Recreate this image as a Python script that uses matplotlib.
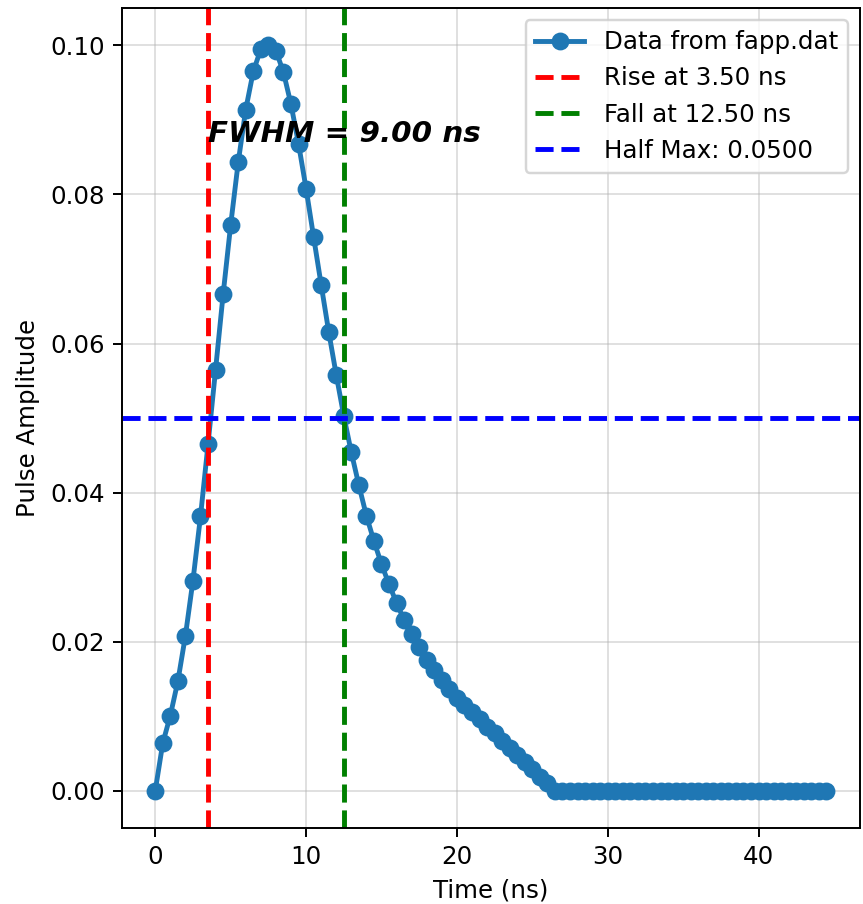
import numpy as np
import matplotlib.pyplot as plt

# pulse samples, 0.5 ns apart
amplitude = [
    0.0000, 0.0064, 0.0101, 0.0147, 0.0208, 0.0282, 0.0368, 0.0465, 0.0565, 0.0666,
    0.0759, 0.0843, 0.0914, 0.0965, 0.0995, 0.1000, 0.0993, 0.0964, 0.0921, 0.0868,
    0.0808, 0.0743, 0.0679, 0.0616, 0.0558, 0.0503, 0.0454, 0.0410, 0.0369, 0.0335,
    0.0304, 0.0277, 0.0252, 0.0229, 0.0210, 0.0193, 0.0176, 0.0162, 0.0148, 0.0136,
    0.0125, 0.0115, 0.0106, 0.0096, 0.0086, 0.0077, 0.0067, 0.0057, 0.0048, 0.0038,
    0.0029, 0.0019, 0.0010,
    0.0, 0.0, 0.0, 0.0, 0.0, 0.0, 0.0, 0.0, 0.0, 0.0, 0.0, 0.0, 0.0, 0.0, 0.0, 0.0,
    0.0, 0.0, 0.0, 0.0, 0.0, 0.0, 0.0, 0.0, 0.0, 0.0, 0.0, 0.0, 0.0, 0.0, 0.0, 0.0,
    0.0, 0.0, 0.0, 0.0, 0.0,
]
dt = 0.5
time = np.arange(len(amplitude)) * dt

rise_time = 3.5
fall_time = 12.5
half_max = 0.05
fwhm = fall_time - rise_time

dpi = 176
fig, ax = plt.subplots(figsize=(863 / dpi, 904 / dpi), dpi=dpi)
fig.subplots_adjust(left=0.141, right=0.9965, top=0.991, bottom=0.084)

ax.plot(time, amplitude, 'o-', color='#1f77b4', lw=2, markersize=6.3, label='Data from fapp.dat')
ax.axvline(rise_time, color='r', ls='--', lw=2, label=f'Rise at {rise_time:.2f} ns')
ax.axvline(fall_time, color='g', ls='--', lw=2, label=f'Fall at {fall_time:.2f} ns')
ax.axhline(half_max, color='b', ls='--', lw=2, label=f'Half Max: {half_max:.4f}')

ax.text(rise_time, 0.0871, f'FWHM = {fwhm:.2f} ns', fontsize=12,
        fontweight='bold', fontstyle='italic')

ax.set_xlabel('Time (ns)')
ax.set_ylabel('Pulse Amplitude')
ax.grid(True, alpha=0.4)
ax.legend(loc='upper right')

fig.savefig('out.png', dpi=dpi)
